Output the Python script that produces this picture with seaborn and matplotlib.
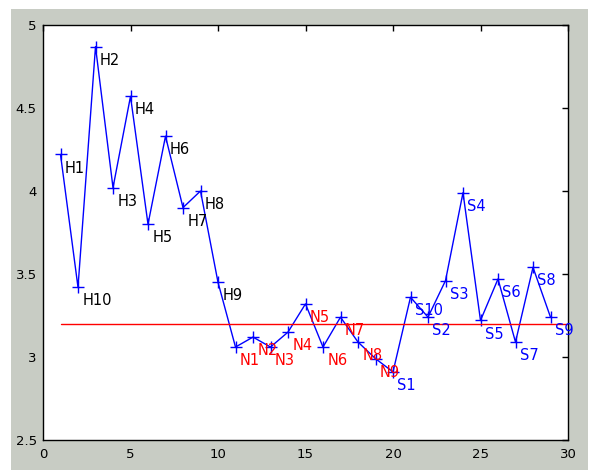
import numpy as np
import pandas as pd
import seaborn as sns
import matplotlib.pyplot as plt
from matplotlib.patches import Rectangle

sns.set_style("white")
plt.rcParams['font.family'] = ['DejaVu Sans']

# values, in plot order (1..29)
labels = ['H1', 'H10', 'H2', 'H3', 'H4', 'H5', 'H6', 'H7', 'H8', 'H9',
          'N1', 'N2', 'N3', 'N4', 'N5', 'N6', 'N7', 'N8', 'N9',
          'S1', 'S10', 'S2', 'S3', 'S4', 'S5', 'S6', 'S7', 'S8', 'S9']
values = [4.22, 3.42, 4.87, 4.02, 4.57, 3.80, 4.33, 3.90, 4.00, 3.45,
          3.06, 3.12, 3.06, 3.15, 3.32, 3.06, 3.24, 3.09, 2.99,
          2.91, 3.36, 3.24, 3.46, 3.99, 3.22, 3.47, 3.09, 3.54, 3.24]
groups = [l[0] for l in labels]
threshold = 3.2
group_colors = {'H': 'black', 'N': 'red', 'S': 'blue'}

df = pd.DataFrame({'idx': np.arange(1, len(values) + 1),
                   'value': values, 'label': labels, 'group': groups})

fig = plt.figure(figsize=(5.95, 4.71), dpi=100)
fig.patch.set_facecolor('white')
# grey figure panel like the old matlab window
fig.patches.append(Rectangle((11 / 595, 1 / 471), 577 / 595, 461 / 471,
                             transform=fig.transFigure, facecolor='#c8ccc4',
                             edgecolor='none', zorder=-10))
ax = fig.add_axes([43 / 595, 31 / 471, 525 / 595, 415 / 471])
ax.set_facecolor('white')

sns.lineplot(data=df, x='idx', y='value', color='blue', marker='+',
             markersize=8, markeredgewidth=1.0, markeredgecolor='blue',
             linewidth=1.0, ax=ax)
sns.lineplot(x=[1, 30], y=[threshold, threshold], color='red',
             linewidth=1.0, ax=ax)

for _, row in df.iterrows():
    ax.annotate(row['label'], (row['idx'], row['value']),
                xytext=(3, -13), textcoords='offset points',
                va='baseline', ha='left', fontsize=10.5,
                color=group_colors[row['group']])

ax.set_xlim(0, 30)
ax.set_ylim(2.5, 5)
ax.set_xticks(range(0, 31, 5))
ax.set_yticks([2.5, 3, 3.5, 4, 4.5, 5])
ax.set_yticklabels(['2.5', '3', '3.5', '4', '4.5', '5'])
ax.set_xlabel('')
ax.set_ylabel('')
for s in ax.spines.values():
    s.set_visible(True)
    s.set_color('black')
    s.set_linewidth(1.0)
ax.tick_params(direction='in', length=4, width=1, top=True, right=True,
               labelsize=9.5, colors='black')
ax.tick_params(axis='x', pad=6)
ax.tick_params(axis='y', pad=4.5)

fig.savefig('out.png', dpi=100, facecolor=fig.get_facecolor())
